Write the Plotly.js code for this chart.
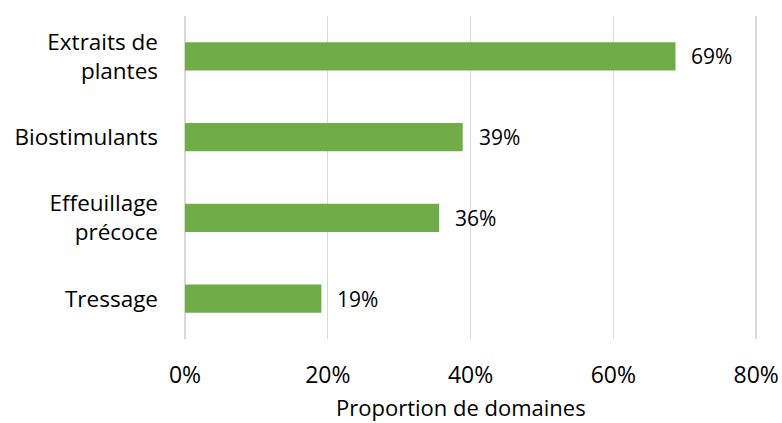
<!DOCTYPE html>
<html><head><meta charset="utf-8">
<script src="https://cdn.plot.ly/plotly-3.0.1.min.js"></script>
<style>html,body{margin:0;padding:0;background:#fff}#chart{width:782px;height:423px}</style>
</head><body><div id="chart"></div>
<script>
const categories = ["Extraits de<br>plantes", "Biostimulants", "Effeuillage<br>précoce", "Tressage"];
const values = [0.687, 0.389, 0.356, 0.191];
const valueLabels = ["69%", "39%", "36%", "19%"];
const xTickVals = [0, 0.2, 0.4, 0.6, 0.8];
const xTickText = ["0%", "20%", "40%", "60%", "80%"];
const xTitle = "Proportion de domaines";

const font = "'Open Sans', sans-serif";
const trace = {
  type: 'bar', orientation: 'h',
  x: values, y: categories,
  marker: {color: '#70AD47'},
  hoverinfo: 'none'
};
const annotations = values.map((v, i) => ({
  x: v, y: categories[i], xref: 'x', yref: 'y',
  text: valueLabels[i], showarrow: false, xanchor: 'left', xshift: 14,
  font: {family: font, size: 21, color: '#000'}
}));
annotations.push({
  x: 0.4817, y: -84 / 323, xref: 'paper', yref: 'paper',
  xanchor: 'center', yanchor: 'bottom', showarrow: false, borderpad: 0,
  text: xTitle, font: {family: font, size: 22, color: '#000'}
});
const layout = {
  width: 782, height: 423,
  margin: {l: 184.5, r: 23.4, t: 16, b: 84},
  paper_bgcolor: '#fff', plot_bgcolor: '#fff',
  bargap: 0.65,
  showlegend: false,
  xaxis: {
    range: [0, 0.804], tickvals: xTickVals, ticktext: xTickText,
    showgrid: true, gridcolor: '#d9d9d9', gridwidth: 1.3,
    zeroline: true, zerolinecolor: '#d9d9d9', zerolinewidth: 1.3,
    showline: false, ticks: '',
    ticklabelstandoff: 20,
    tickfont: {family: font, size: 23, color: '#000'}
  },
  yaxis: {
    autorange: 'reversed', showgrid: false, zeroline: false, showline: false, ticks: '',
    ticklabelstandoff: 26,
    tickfont: {family: font, size: 22.5, color: '#000'}
  },
  annotations: annotations
};
Plotly.newPlot('chart', [trace], layout, {displayModeBar: false, staticPlot: true});
</script></body></html>
